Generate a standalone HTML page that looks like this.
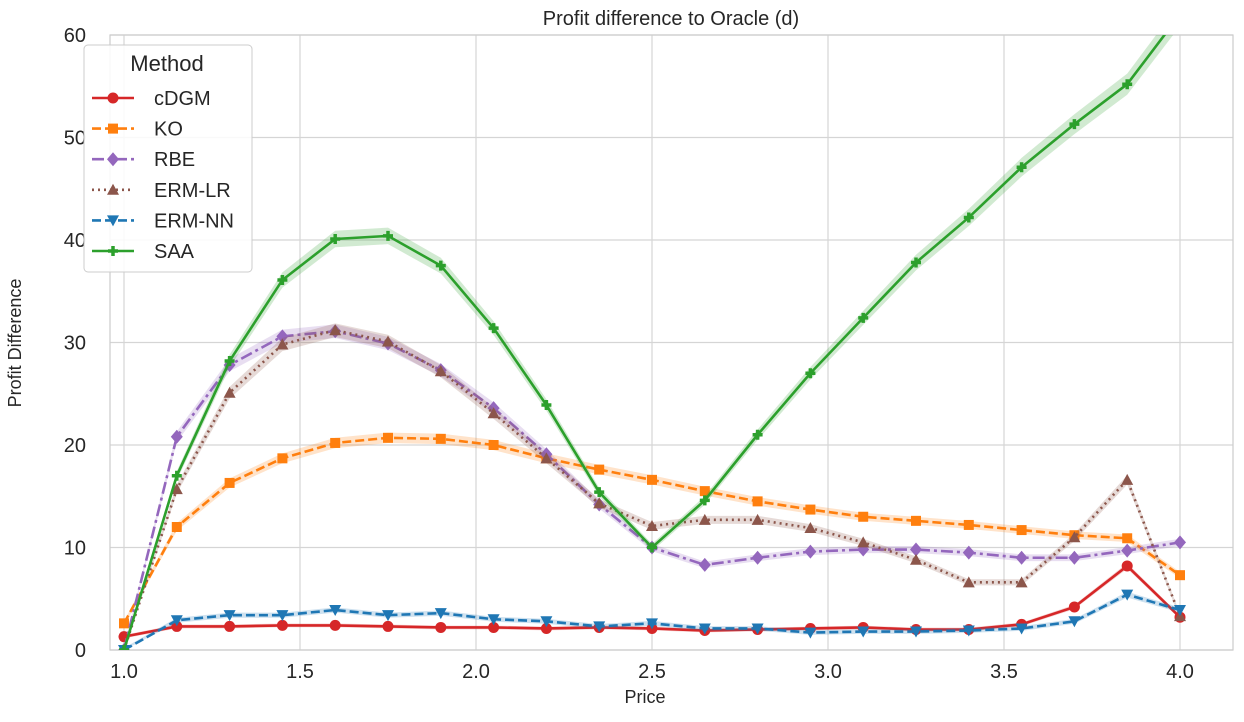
<!DOCTYPE html>
<html><head><meta charset="utf-8"><style>
body{margin:0;background:#fff;font-family:"Liberation Sans",Arial,sans-serif}
svg text{font-family:"Liberation Sans",Arial,sans-serif;fill:#262626}
</style></head><body>
<svg id="chart" width="1244" height="717">
<defs><clipPath id="clip"><rect x="110" y="35" width="1123" height="615"/></clipPath></defs>
<g id="grid"></g>
<rect x="110" y="35" width="1123" height="615" fill="none" stroke="#ccc" stroke-width="1.2"/>
<g id="series" clip-path="url(#clip)"></g>
<g id="ticks"></g>
<text x="671" y="25" font-size="20" text-anchor="middle">Profit difference to Oracle (d)</text>
<text x="645" y="703" font-size="18" text-anchor="middle">Price</text>
<text x="21" y="343" font-size="18" text-anchor="middle" transform="rotate(-90 21 343)">Profit Difference</text>
<g id="legend">
<rect x="84" y="45" width="168" height="227" rx="4" fill="#fff" fill-opacity="0.85" stroke="#ccc"/>
<text x="167" y="71" font-size="22" text-anchor="middle">Method</text>
</g>
</svg>
<script>
const xs=[1.0,1.15,1.3,1.45,1.6,1.75,1.9,2.05,2.2,2.35,2.5,2.65,2.8,2.95,3.1,3.25,3.4,3.55,3.7,3.85,4.0];
const names=["cDGM","KO","RBE","ERM-LR","ERM-NN","SAA"];
const cdgm=[1.3,2.3,2.3,2.4,2.4,2.3,2.2,2.2,2.1,2.2,2.1,1.9,2.0,2.1,2.2,2.0,2.0,2.5,4.2,8.2,3.2];
const ko=[2.6,12.0,16.3,18.7,20.2,20.7,20.6,20.0,18.7,17.6,16.6,15.5,14.5,13.7,13.0,12.6,12.2,11.7,11.2,10.9,7.3];
const rbe=[0,20.8,27.8,30.6,31.1,29.9,27.3,23.6,19.1,14.2,10.0,8.3,9.0,9.6,9.8,9.8,9.5,9.0,9.0,9.7,10.5];
const ermlr=[0,15.7,25.1,29.8,31.2,30.1,27.2,23.1,18.7,14.3,12.1,12.7,12.7,11.9,10.5,8.8,6.6,6.6,11.0,16.6,3.3];
const ermnn=[0,2.9,3.4,3.4,3.9,3.4,3.6,3.0,2.8,2.3,2.6,2.1,2.1,1.7,1.8,1.8,1.9,2.1,2.8,5.4,3.9];
const saa=[0,17.0,28.2,36.1,40.1,40.4,37.5,31.4,23.9,15.4,10.0,14.6,21.0,27.0,32.4,37.8,42.2,47.1,51.3,55.2,62.0];
const xTicks=[1.0,1.5,2.0,2.5,3.0,3.5,4.0];
const yTicks=[0,10,20,30,40,50,60];
const X=v=>124+(v-1)*352;
const Y=v=>650-v*10.25;
const NS="http://www.w3.org/2000/svg";
function mk(tag,attrs,parent){const e=document.createElementNS(NS,tag);for(const k in attrs)e.setAttribute(k,attrs[k]);parent.appendChild(e);return e;}
const grid=document.getElementById('grid'),ticks=document.getElementById('ticks');
xTicks.forEach(t=>{
 const l=mk('line',{x1:X(t),x2:X(t),y1:35,y2:650,stroke:'#d5d5d5','stroke-width':1.2},grid);
 
 
 const tx=mk('text',{x:X(t),y:678,'font-size':20,'text-anchor':'middle'},ticks);
 tx.textContent=t.toFixed(1);
 
 
});
yTicks.forEach(t=>{
 const l=mk('line',{x1:110,x2:1233,y1:Y(t),y2:Y(t),stroke:'#d5d5d5','stroke-width':1.2},grid);
 
 
 const tx=mk('text',{x:86,y:Y(t)+7,'font-size':20,'text-anchor':'end'},ticks);
 tx.textContent=t;
 
 
});
const data=[cdgm,ko,rbe,ermlr,ermnn,saa];
const colors=['#d62728','#ff7f0e','#9467bd','#8c564b','#1f77b4','#2ca02c'];
const dashes=['none','9,4','12,4,3,4','2,4','9,4','none'];
const markers=['circle','square','diamond','tri','tridown','plus'];
const bandW=[0.15,0.2,0.2,0.2,0.2,0.2];
function marker(type,x,y,c,g){
 let e;
 if(type==='circle')e=mk('circle',{cx:x,cy:y,r:5.5,fill:c},g);
 else if(type==='square')e=mk('rect',{x:x-5,y:y-5,width:10,height:10,fill:c},g);
 else if(type==='diamond')e=mk('polygon',{points:`${x},${y-7} ${x+6},${y} ${x},${y+7} ${x-6},${y}`,fill:c},g);
 else if(type==='tri')e=mk('polygon',{points:`${x},${y-6} ${x+6},${y+5} ${x-6},${y+5}`,fill:c},g);
 else if(type==='tridown')e=mk('polygon',{points:`${x},${y+6} ${x+6},${y-5} ${x-6},${y-5}`,fill:c},g);
 else e=mk('path',{d:`M${x-5},${y}H${x+5}M${x},${y-5}V${y+5}`,stroke:c,'stroke-width':3.5},g);
 return e;
}
const sg=document.getElementById('series');
data.forEach((arr,i)=>{
 const g=mk('g',{},sg);
 
 
 const up=arr.map((v,j)=>X(xs[j])+','+Y(v+bandW[i]+v*0.015)).join(' ');
 const dn=arr.map((v,j)=>X(xs[j])+','+Y(Math.max(0,v-bandW[i]-v*0.015))).reverse().join(' ');
 const b=mk('polygon',{points:up+' '+dn,fill:colors[i],'fill-opacity':0.22},g);
 
 
 const ln=mk('polyline',{points:arr.map((v,j)=>X(xs[j])+','+Y(v)).join(' '),fill:'none',stroke:colors[i],'stroke-width':2.6,'stroke-dasharray':dashes[i]},g);
 
 
 arr.forEach((v,j)=>{
  const m=marker(markers[i],X(xs[j]),Y(v),colors[i],g);
  
  
 });
});
const lg=document.getElementById('legend');
names.forEach((n,i)=>{
 const y=98+i*30.6;
 const g=mk('g',{},lg);
 
 
 mk('line',{x1:92,x2:134,y1:y,y2:y,stroke:colors[i],'stroke-width':2.6,'stroke-dasharray':dashes[i]},g);
 marker(markers[i],113,y,colors[i],g);
 const t=mk('text',{x:154,y:y+7,'font-size':20},g);
 t.textContent=n;
});
</script>
</body></html>
